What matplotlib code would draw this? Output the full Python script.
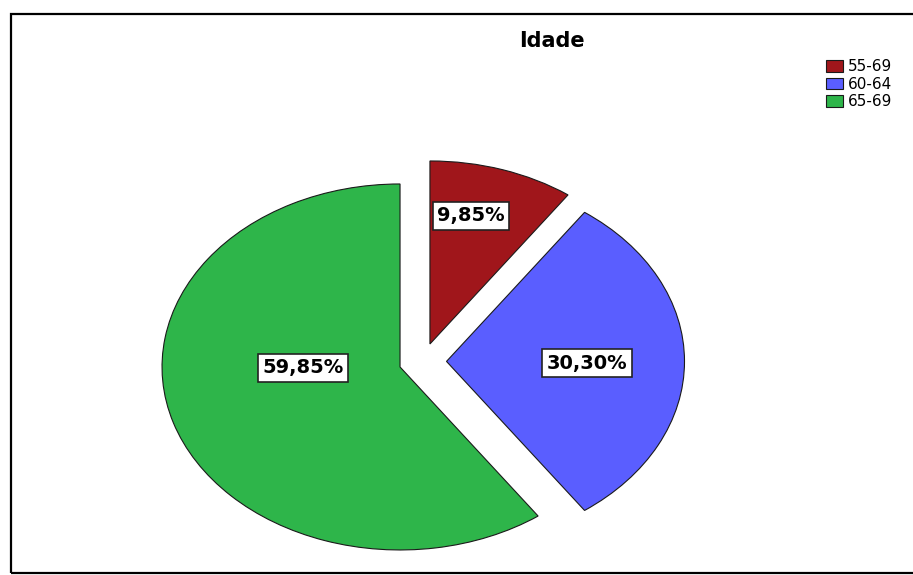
"""
pie chart: Idade
"""

#------------------------------------------------------------
# import
import matplotlib.pyplot as plt
from matplotlib.patches import Rectangle

#------------------------------------------------------------
# data
categories = ["55-69", "60-64", "65-69"]
percentages = [9.85, 30.30, 59.85]
colors = ["#a0161b", "#5a5eff", "#2eb54a"]
title = "Idade"

#------------------------------------------------------------
# layout (pixel values of the 913x575 picture)
W, H = 913, 575
cx, cy = 422.7, 361.4     # pie centre
rx, ry = 238, 183         # horizontal / vertical radius (stretched pie)
explode = [0.1, 0.1, 0.1]
# label centres in pixels
label_px = [(471, 216), (587, 363), (303, 368)]

fig = plt.figure(figsize=(W / 100, H / 100), dpi=100)
ax = fig.add_axes([0, 0, 1, 1])

wedges, texts, autotexts = ax.pie(
    percentages,
    colors=colors,
    startangle=90,
    counterclock=False,
    explode=explode,
    wedgeprops=dict(edgecolor="#1a1a1a", linewidth=0.8),
    autopct=lambda p: f"{p:.2f}%".replace(".", ","),
)

# 楕円にするため縦横比を解除
ax.set_aspect("auto")
ax.set_xlim(-cx / rx, (W - cx) / rx)
ax.set_ylim(-(H - cy) / ry, cy / ry)
ax.axis("off")

# ラベル（白い箱）
for t, (px, py) in zip(autotexts, label_px):
    t.set_position(((px - cx) / rx, (cy - py) / ry))
    t.set_fontsize(14)
    t.set_fontweight("bold")
    t.set_color("black")
    t.set_ha("center")
    t.set_va("center")
    t.set_bbox(dict(boxstyle="square,pad=0.22", facecolor="white",
                    edgecolor="#222222", linewidth=1.2))

# タイトル
fig.text(552 / W, 1 - 47 / H, title, ha="center", va="baseline",
         fontsize=15, fontweight="bold")

# 凡例
ax.legend(
    wedges, categories,
    loc="upper left",
    bbox_to_anchor=(826 / W, 1 - 59 / H),
    bbox_transform=fig.transFigure,
    frameon=False,
    borderpad=0,
    borderaxespad=0,
    fontsize=11,
    handlelength=1.11,
    handleheight=0.8,
    handletextpad=0.35,
    labelspacing=0.18,
)

# 外枠
fig.patches.append(Rectangle((10.5 / W, 2 / H), 1.0, (573 - 13.5) / H,
                             transform=fig.transFigure, fill=False,
                             edgecolor="black", linewidth=1.6))

fig.savefig("out.png", dpi=100)
